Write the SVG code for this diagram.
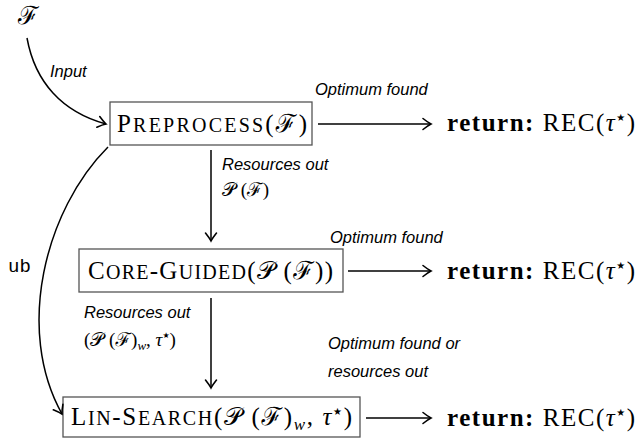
<svg xmlns="http://www.w3.org/2000/svg" width="637" height="441" viewBox="0 0 637 441">
<defs>
<marker id="ah" markerUnits="userSpaceOnUse" markerWidth="14" markerHeight="14" viewBox="-10 -7 12 14" refX="0" refY="0" orient="auto">
<path d="M -8 -5.5 Q -3 -1.5 0 0 Q -3 1.5 -8 5.5" fill="none" stroke="#000" stroke-width="1.6" stroke-linecap="round"/>
</marker>
<style>
.box{fill:#fff;stroke:#555;stroke-width:1.3}
.sc{font-family:"Liberation Serif","Times New Roman",serif;font-size:25px;fill:#000}
.cal{font-family:"DejaVu Serif","Noto Sans",serif;font-style:normal}
.star{font-family:"DejaVu Sans",sans-serif;font-style:normal}
.lbl{font-family:"Liberation Sans",Arial,sans-serif;font-style:italic;font-size:16.5px;fill:#000}
.ret{font-family:"Liberation Serif","Times New Roman",serif;font-size:25px;fill:#000}
.mono{font-family:"Liberation Mono","Courier New",monospace;font-size:19px;fill:#000}
.math{font-family:"Liberation Serif","Times New Roman",serif;font-size:19px;fill:#000}
.conn{fill:none;stroke:#000;stroke-width:1.5}
</style>
</defs>

<g id="input">
<text x="18" y="24" class="sc"><tspan class="cal">ℱ</tspan></text>
</g>

<g id="preprocess">
<rect class="box" x="110" y="102" width="202" height="43"/>
<text class="sc" x="117" y="132" textLength="190" lengthAdjust="spacing">P<tspan font-size="20">REPROCESS</tspan>(<tspan class="cal">ℱ</tspan>)</text>
</g>

<g id="coreguided">
<rect class="box" x="79" y="249" width="264" height="43"/>
<text class="sc" x="88" y="279" textLength="245" lengthAdjust="spacing">C<tspan font-size="20">ORE</tspan>-G<tspan font-size="20">UIDED</tspan>(<tspan class="cal">𝒫</tspan> (<tspan class="cal">ℱ</tspan>))</text>
</g>

<g id="linsearch">
<rect class="box" x="63" y="397" width="297" height="40"/>
<text class="sc" x="71" y="425" textLength="281" lengthAdjust="spacing">L<tspan font-size="20">IN</tspan>-S<tspan font-size="20">EARCH</tspan>(<tspan class="cal">𝒫</tspan> (<tspan class="cal">ℱ</tspan>)<tspan font-style="italic" font-size="17" dy="5">w</tspan><tspan dy="-5">, </tspan><tspan font-style="italic">τ</tspan><tspan class="star" font-size="10" dy="-10">★</tspan><tspan dy="10">)</tspan></text>
</g>

<g id="return1">
<text class="ret" x="447" y="131" textLength="188" lengthAdjust="spacing"><tspan font-weight="bold">return:</tspan> REC(<tspan font-style="italic">τ</tspan><tspan class="star" font-size="10" dy="-10">★</tspan><tspan dy="10">)</tspan></text>
</g>
<g id="return2">
<text class="ret" x="447" y="279" textLength="188" lengthAdjust="spacing"><tspan font-weight="bold">return:</tspan> REC(<tspan font-style="italic">τ</tspan><tspan class="star" font-size="10" dy="-10">★</tspan><tspan dy="10">)</tspan></text>
</g>
<g id="return3">
<text class="ret" x="447" y="426" textLength="188" lengthAdjust="spacing"><tspan font-weight="bold">return:</tspan> REC(<tspan font-style="italic">τ</tspan><tspan class="star" font-size="10" dy="-10">★</tspan><tspan dy="10">)</tspan></text>
</g>

<g id="connectors">
<path class="conn" d="M27,38 C35,82 62,112 106,124" marker-end="url(#ah)"/>
<path class="conn" d="M108,147 C45,210 15,330 62,414" marker-end="url(#ah)"/>
<line class="conn" x1="211" y1="150" x2="211" y2="241" marker-end="url(#ah)"/>
<line class="conn" x1="211" y1="298" x2="211" y2="388" marker-end="url(#ah)"/>
<line class="conn" x1="318" y1="124" x2="431" y2="124" marker-end="url(#ah)"/>
<line class="conn" x1="348" y1="271" x2="431" y2="271" marker-end="url(#ah)"/>
<line class="conn" x1="366" y1="418" x2="431" y2="418" marker-end="url(#ah)"/>
</g>

<g id="labels">
<text class="lbl" x="50" y="77">Input</text>
<text class="lbl" x="315" y="95">Optimum found</text>
<text class="lbl" x="222" y="170">Resources out</text>
<text class="math" x="222" y="196"><tspan class="cal">𝒫</tspan> (<tspan class="cal">ℱ</tspan>)</text>
<text class="mono" x="8" y="272">ub</text>
<text class="lbl" x="330" y="243">Optimum found</text>
<text class="lbl" x="84" y="318">Resources out</text>
<text class="math" x="84" y="346">(<tspan class="cal">𝒫</tspan> (<tspan class="cal">ℱ</tspan>)<tspan font-style="italic" font-size="13" dy="4">w</tspan><tspan dy="-4">, </tspan><tspan font-style="italic">τ</tspan><tspan class="star" font-size="8" dy="-8">★</tspan><tspan dy="8">)</tspan></text>
<text class="lbl" x="328" y="349">Optimum found or</text>
<text class="lbl" x="328" y="377">resources out</text>
</g>
</svg>
